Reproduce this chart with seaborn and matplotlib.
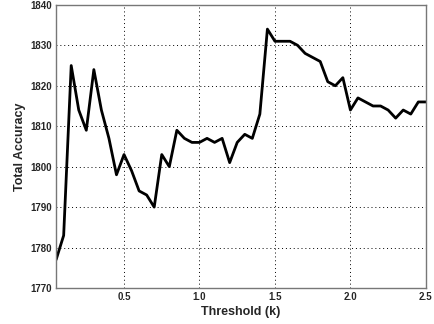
import numpy as np
import pandas as pd
import matplotlib
matplotlib.use('Agg')
import matplotlib.pyplot as plt
import seaborn as sns

# threshold values (k) and total accuracy
threshold = [0.05, 0.10, 0.15, 0.20, 0.25, 0.30, 0.35, 0.40, 0.45, 0.50,
             0.55, 0.60, 0.65, 0.70, 0.75, 0.80, 0.85, 0.90, 0.95, 1.00,
             1.05, 1.10, 1.15, 1.20, 1.25, 1.30, 1.35, 1.40, 1.45, 1.50,
             1.55, 1.60, 1.65, 1.70, 1.75, 1.80, 1.85, 1.90, 1.95, 2.00,
             2.05, 2.10, 2.15, 2.20, 2.25, 2.30, 2.35, 2.40, 2.45, 2.50]
accuracy = [1777, 1783, 1825, 1814, 1809, 1824, 1814, 1807, 1798, 1803,
            1799, 1794, 1793, 1790, 1803, 1800, 1809, 1807, 1806, 1806,
            1807, 1806, 1807, 1801, 1806, 1808, 1807, 1813, 1834, 1831,
            1831, 1831, 1830, 1828, 1827, 1826, 1821, 1820, 1822, 1814,
            1817, 1816, 1815, 1815, 1814, 1812, 1814, 1813, 1816, 1816]
x_ticks = [0.5, 1.0, 1.5, 2.0, 2.5]
y_ticks = [1770, 1780, 1790, 1800, 1810, 1820, 1830, 1840]

df = pd.DataFrame({'threshold': threshold, 'accuracy': accuracy})

sns.set_style('white')
plt.rcParams['font.family'] = ['Liberation Sans', 'DejaVu Sans']

fig = plt.figure(figsize=(4.35, 3.24), dpi=100)
ax = fig.add_axes([0.129, 0.111, 0.850, 0.874])

sns.lineplot(data=df, x='threshold', y='accuracy', color='black', linewidth=2, ax=ax)

ax.set_xlim(0.05, 2.5)
ax.set_ylim(1770, 1840)
ax.set_xticks(x_ticks)
ax.set_xticklabels([f'{t:.1f}' for t in x_ticks], fontsize=7, fontweight='bold')
ax.set_yticks(y_ticks)
ax.set_yticklabels([str(t) for t in y_ticks], fontsize=7, fontweight='bold')
ax.grid(True, color='black', linestyle=(0, (1, 3)), linewidth=0.7)
ax.tick_params(direction='in', length=3, color='#555555', pad=3)
for sp in ax.spines.values():
    sp.set_color('#777777')
    sp.set_linewidth(1)

ax.set_xlabel('Threshold (k)', fontsize=9, fontweight='bold', labelpad=3)
ax.set_ylabel('Total Accuracy', fontsize=9, fontweight='bold', labelpad=3)

fig.savefig('out.png', dpi=100)
